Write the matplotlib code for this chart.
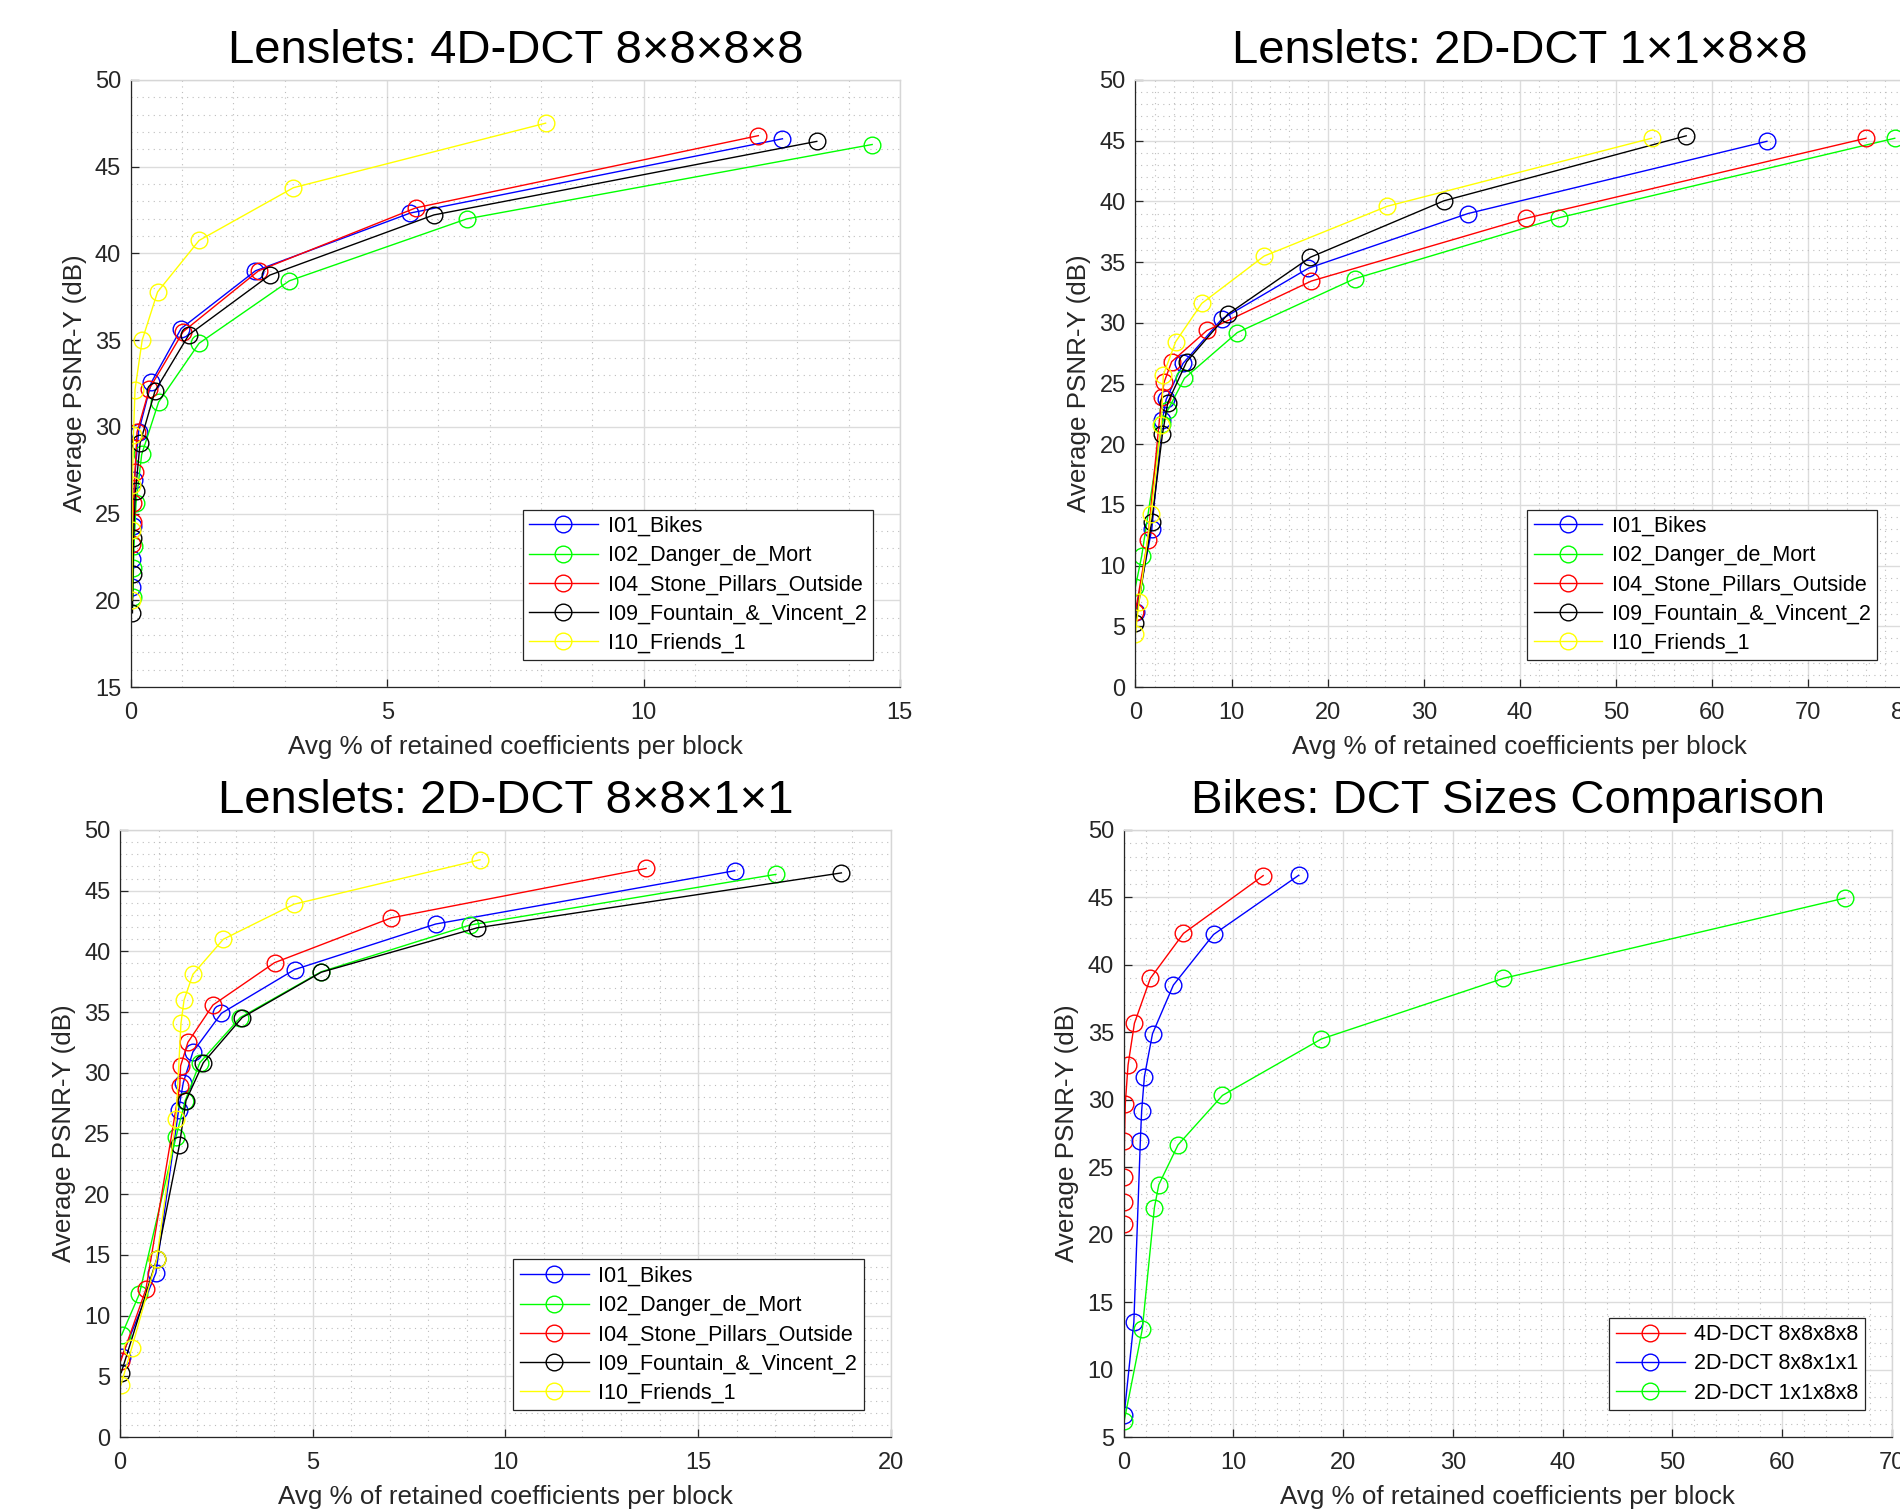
import matplotlib
matplotlib.use('Agg')
import matplotlib.pyplot as plt
from matplotlib.ticker import MultipleLocator

plt.rcParams['font.family'] = ['Liberation Sans', 'DejaVu Sans']

names = ['I01_Bikes', 'I02_Danger_de_Mort', 'I04_Stone_Pillars_Outside',
         'I09_Fountain_&_Vincent_2', 'I10_Friends_1']
colors = ['#0000ff', '#00ff00', '#ff0000', '#000000', '#ffff00']

# ---- 4D-DCT 8x8x8x8 -------------------------------------------------------
d4_bikes_x = [12.71, 5.45, 2.43, 0.98, 0.40, 0.15, 0.07, 0.05, 0.03, 0.02]
d4_bikes_y = [46.61, 42.33, 39.00, 35.67, 32.57, 29.72, 26.94, 24.31, 22.40, 20.77]
d4_danger_x = [14.46, 6.55, 3.09, 1.33, 0.54, 0.21, 0.10, 0.06, 0.05, 0.04]
d4_danger_y = [46.28, 41.99, 38.42, 34.82, 31.43, 28.41, 25.62, 23.12, 21.84, 20.20]
d4_stone_x = [12.24, 5.56, 2.49, 1.02, 0.36, 0.12, 0.08, 0.05, 0.04, 0.03]
d4_stone_y = [46.79, 42.63, 39.00, 35.49, 32.20, 29.70, 27.41, 25.62, 24.53, 23.22]
d4_fountain_x = [13.38, 5.91, 2.71, 1.13, 0.47, 0.18, 0.09, 0.05, 0.04, 0.03]
d4_fountain_y = [46.46, 42.22, 38.75, 35.31, 32.07, 29.08, 26.30, 23.57, 21.51, 19.28]
d4_friends_x = [8.09, 3.17, 1.33, 0.52, 0.22, 0.08, 0.05, 0.03, 0.03, 0.02]
d4_friends_y = [47.51, 43.79, 40.75, 37.78, 35.00, 32.15, 29.53, 26.64, 24.05, 20.01]

# ---- 2D-DCT 1x1x8x8 -------------------------------------------------------
d11_bikes_x = [65.7, 34.6, 18.0, 9.0, 4.95, 3.2, 2.8, 1.7, 0.05]
d11_bikes_y = [44.95, 39.00, 34.50, 30.32, 26.65, 23.70, 22.00, 13.00, 6.20]
d11_danger_x = [79.0, 44.1, 22.8, 10.6, 5.1, 3.36, 2.73, 0.65, 0.0]
d11_danger_y = [45.20, 38.66, 33.63, 29.20, 25.43, 22.80, 21.64, 10.79, 8.26]
d11_stone_x = [76.0, 40.6, 18.3, 7.44, 3.77, 3.0, 2.73, 1.28, 0.0]
d11_stone_y = [45.20, 38.60, 33.44, 29.37, 26.80, 25.15, 23.91, 12.11, 6.20]
d11_fountain_x = [57.3, 32.1, 18.2, 9.6, 5.33, 3.36, 2.81, 1.69, 0.0]
d11_fountain_y = [45.40, 40.05, 35.40, 30.70, 26.80, 23.42, 20.84, 13.60, 5.25]
d11_friends_x = [53.7, 26.2, 13.4, 6.9, 4.19, 2.9, 2.7, 1.62, 0.38, 0.0]
d11_friends_y = [45.20, 39.60, 35.50, 31.60, 28.45, 25.70, 21.60, 14.23, 7.03, 4.37]

# ---- 2D-DCT 8x8x1x1 -------------------------------------------------------
d88_bikes_x = [15.95, 8.19, 4.53, 2.63, 1.89, 1.64, 1.52, 0.93, 0.04]
d88_bikes_y = [46.64, 42.25, 38.50, 34.90, 31.72, 29.18, 26.97, 13.52, 6.60]
d88_danger_x = [17.02, 9.07, 5.22, 3.12, 2.07, 1.69, 1.45, 0.50, 0.04]
d88_danger_y = [46.34, 42.16, 38.32, 34.55, 30.83, 27.70, 24.69, 11.78, 8.40]
d88_stone_x = [13.65, 7.04, 4.01, 2.41, 1.76, 1.57, 1.55, 0.67, 0.02]
d88_stone_y = [46.83, 42.76, 39.07, 35.58, 32.51, 30.56, 28.94, 12.17, 6.29]
d88_fountain_x = [18.72, 9.27, 5.22, 3.17, 2.16, 1.71, 1.54, 0.95, 0.03]
d88_fountain_y = [46.46, 41.94, 38.28, 34.55, 30.83, 27.70, 24.05, 14.64, 5.30]
d88_friends_x = [9.34, 4.51, 2.68, 1.89, 1.66, 1.58, 1.45, 0.95, 0.30, 0.02]
d88_friends_y = [47.54, 43.88, 41.00, 38.11, 35.99, 34.07, 26.17, 14.64, 7.30, 4.28]

dct4 = [(d4_bikes_x, d4_bikes_y), (d4_danger_x, d4_danger_y), (d4_stone_x, d4_stone_y),
        (d4_fountain_x, d4_fountain_y), (d4_friends_x, d4_friends_y)]
dct11 = [(d11_bikes_x, d11_bikes_y), (d11_danger_x, d11_danger_y), (d11_stone_x, d11_stone_y),
         (d11_fountain_x, d11_fountain_y), (d11_friends_x, d11_friends_y)]
dct88 = [(d88_bikes_x, d88_bikes_y), (d88_danger_x, d88_danger_y), (d88_stone_x, d88_stone_y),
         (d88_fountain_x, d88_fountain_y), (d88_friends_x, d88_friends_y)]

xlab = 'Avg % of retained coefficients per block'
ylab = 'Average PSNR-Y (dB)'


def style(ax, xmax, ymin, xmaj, xminor, title):
    ax.set_xlim(0, xmax)
    ax.set_ylim(ymin, 50)
    ax.xaxis.set_major_locator(MultipleLocator(xmaj))
    ax.xaxis.set_minor_locator(MultipleLocator(xminor))
    ax.yaxis.set_major_locator(MultipleLocator(5))
    ax.yaxis.set_minor_locator(MultipleLocator(1))
    ax.set_axisbelow(True)
    ax.grid(which='major', color='#dcdcdc', lw=1.0)
    ax.grid(which='minor', color='#bdbdbd', lw=0.8, ls=(0, (1, 4)))
    ax.tick_params(which='major', direction='in', length=6, width=0.9,
                   color='#262626', labelcolor='#262626', labelsize=17, pad=7)
    ax.tick_params(axis='x', which='major', pad=11)
    ax.tick_params(which='minor', length=0)
    for s in ['left', 'bottom']:
        ax.spines[s].set_color('#262626')
        ax.spines[s].set_linewidth(0.9)
    for s in ['top', 'right']:
        ax.spines[s].set_color('#d6d6d6')
        ax.spines[s].set_linewidth(1.0)
    ax.set_xlabel(xlab, fontsize=18.7, color='#262626', labelpad=8)
    ax.set_ylabel(ylab, fontsize=18.7, color='#262626', labelpad=6)
    ax.set_title(title, fontsize=34, pad=12)


def curves(ax, series, labels, cols):
    for (x, y), lab, c in zip(series, labels, cols):
        ax.plot(x, y, color=c, lw=1.0, marker='o', ms=12, mfc='none',
                mec=c, mew=1.0, label=lab)
    leg = ax.legend(loc='lower right', fontsize=15.5, frameon=True, fancybox=False,
                    framealpha=1, edgecolor='#262626', handlelength=3.2,
                    handletextpad=0.45, labelspacing=0.38, borderpad=0.3,
                    borderaxespad=1.25)
    leg.get_frame().set_linewidth(0.9)


fig = plt.figure(figsize=(19, 15.12), dpi=100)

ax1 = fig.add_axes([0.0689, 0.5456, 0.4047, 0.4015])
curves(ax1, dct4, names, colors)
style(ax1, 15, 15, 5, 1, 'Lenslets: 4D-DCT 8×8×8×8')

ax2 = fig.add_axes([0.5976, 0.5456, 0.4047, 0.4015])
curves(ax2, dct11, names, colors)
style(ax2, 80, 0, 10, 2, 'Lenslets: 2D-DCT 1×1×8×8')

ax3 = fig.add_axes([0.0632, 0.0496, 0.4056, 0.4015])
curves(ax3, dct88, names, colors)
style(ax3, 20, 0, 5, 1, 'Lenslets: 2D-DCT 8×8×1×1')

# Bikes only: the three transform sizes side by side
ax4 = fig.add_axes([0.5914, 0.0496, 0.4044, 0.4015])
curves(ax4, [dct4[0], dct88[0], dct11[0]],
       ['4D-DCT 8x8x8x8', '2D-DCT 8x8x1x1', '2D-DCT 1x1x8x8'],
       ['#ff0000', '#0000ff', '#00ff00'])
style(ax4, 70, 5, 10, 2, 'Bikes: DCT Sizes Comparison')

fig.savefig('out.png', dpi=100)
